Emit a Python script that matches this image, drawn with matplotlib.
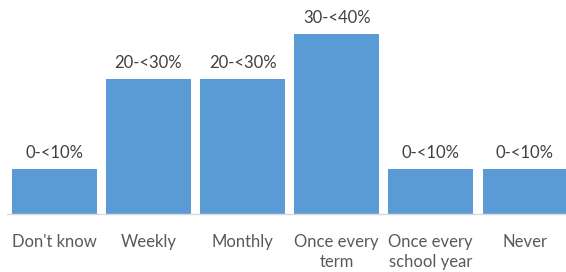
import matplotlib
matplotlib.use("Agg")
import matplotlib.pyplot as plt

categories = ["Don't know", "Weekly", "Monthly", "Once every\nterm",
              "Once every\nschool year", "Never"]
values = [10, 30, 30, 40, 10, 10]
labels = ["0-<10%", "20-<30%", "20-<30%", "30-<40%", "0-<10%", "0-<10%"]

plt.rcParams['font.family'] = ['Lato', 'DejaVu Sans']

fig = plt.figure(figsize=(5.66, 2.72), dpi=100)
ax = fig.add_axes([7.3 / 566, 0.215, 564.6 / 566, 0.725])

x = range(len(categories))
bars = ax.bar(x, values, width=0.9, color="#5B9BD5")
for b, lab in zip(bars, labels):
    ax.text(b.get_x() + b.get_width() / 2, b.get_height() + 1.8, lab,
            ha="center", va="bottom", fontsize=12, color="#404040", clip_on=False)

ax.set_xlim(-0.5, 5.5)
ax.set_ylim(0, 44)
ax.set_xticks(list(x))
ax.set_xticklabels(categories, fontsize=12, color="#595959", linespacing=1.25)
ax.tick_params(axis="x", length=0, pad=15)
ax.set_yticks([])
for s in ["top", "right", "left"]:
    ax.spines[s].set_visible(False)
ax.spines["bottom"].set_color("#D9D9D9")
ax.spines["bottom"].set_linewidth(1.0)

fig.savefig("out.png", dpi=100)
